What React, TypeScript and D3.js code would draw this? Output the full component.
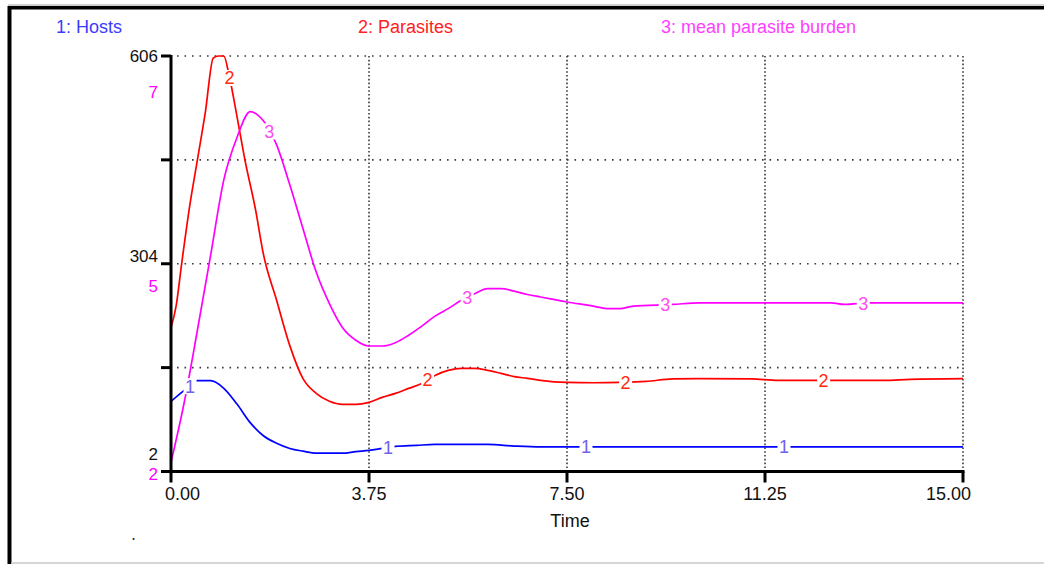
import React from 'react';
import * as d3 from 'd3';

// ---- data ----
const legendLabels = ['1: Hosts', '2: Parasites', '3: mean parasite burden'];
const seriesColors = ['#0000ff', '#ff0000', '#ff00ff'];
const labelColors = ['#6f62ee', '#ff2a10', '#ff4cf0'];
const legendColors = ['#3c3cff', '#ff2020', '#ff40ff'];

const xTicks = [0, 3.75, 7.5, 11.25, 15];
const leftTicks = [2, 153, 304, 455, 606];
const leftTickLabels = [
  { v: 606, t: '606' },
  { v: 304, t: '304' },
  { v: 2, t: '2' },
];
const burdenTickLabels = [7, 4.5, 2];

const hostTimes = [0, 0.25, 0.5, 0.75, 1, 1.25, 1.5, 1.75, 2, 2.25, 2.5, 2.75, 3, 3.25, 3.5, 3.75, 4, 4.25, 4.65, 5, 5.5, 6, 6.5, 7, 15];
const hostValues = [104, 120, 134, 134, 123, 100, 73, 54, 43, 35.5, 31.5, 28.6, 28.6, 28.6, 31, 32.6, 35.5, 38.4, 40, 41.3, 41.3, 41.3, 39, 37.7, 37.7];

const parasiteTimes = [0, 0.1, 0.2, 0.35, 0.5, 0.65, 0.8, 0.9, 1.0, 1.1, 1.25, 1.4, 1.6, 1.75, 2, 2.25, 2.5, 2.75, 3, 3.25, 3.5, 3.75, 4, 4.25, 4.5, 4.75, 5, 5.25, 5.5, 5.75, 6, 6.25, 6.5, 6.75, 7, 7.5, 8, 8.5, 9, 9.5, 10, 11, 11.5, 13.5, 14, 15];
const parasiteValues = [211, 244, 303, 386, 455, 524, 603, 606, 606, 578, 518, 455, 383, 318, 251, 185, 137, 115.5, 104, 99.5, 99.5, 102.4, 109.7, 115.5, 122.8, 130, 141.7, 149, 152, 152, 149, 144.6, 140, 137.4, 134.5, 131.5, 131, 131.5, 133, 136.6, 137, 136.6, 134.5, 134.5, 136, 137];

const burdenTimes = [0, 0.25, 0.5, 0.75, 1, 1.25, 1.5, 1.75, 2, 2.25, 2.5, 2.75, 3, 3.25, 3.5, 3.75, 4, 4.25, 4.5, 4.75, 5, 5.25, 5.5, 5.75, 6, 6.25, 6.5, 6.75, 7, 7.5, 8, 8.25, 8.5, 8.75, 9.5, 10, 12.5, 12.75, 13.25, 15];
const burdenValues = [2.11, 2.83, 3.7, 4.6, 5.51, 6.02, 6.33, 6.22, 5.93, 5.45, 4.92, 4.4, 4.02, 3.73, 3.58, 3.51, 3.51, 3.55, 3.64, 3.75, 3.87, 3.96, 4.06, 4.14, 4.2, 4.2, 4.17, 4.13, 4.1, 4.04, 3.99, 3.96, 3.96, 3.99, 4.01, 4.03, 4.03, 4.01, 4.03, 4.03];

const seriesLabelStarts = [0.36, 1.11, 1.86];
const seriesLabelStep = 3.75;

const FONT = "'Liberation Sans', Arial, sans-serif";

function interp(ts: number[], vs: number[], t: number) {
  for (let i = 0; i < ts.length - 1; i++) {
    if (t >= ts[i] && t <= ts[i + 1]) {
      const f = (t - ts[i]) / (ts[i + 1] - ts[i]);
      return vs[i] + f * (vs[i + 1] - vs[i]);
    }
  }
  return vs[vs.length - 1];
}

export default function App() {
  const W = 1044;
  const H = 564;
  const x = d3.scaleLinear().domain([0, 15]).range([171, 963]);
  const yL = d3.scaleLinear().domain([2, 606]).range([471.5, 56]);
  const yB = d3.scaleLinear().domain([2, 7]).range([471.5, 56]);
  const fmt0 = d3.format('.0f');
  const fmtX = d3.format('.2f');

  const series = [
    { ts: hostTimes, vs: hostValues, y: yL },
    { ts: parasiteTimes, vs: parasiteValues, y: yL },
    { ts: burdenTimes, vs: burdenValues, y: yB },
  ];

  const x0 = x(0);
  const x1 = x(15);
  const yTop = yL(606);
  const yBot = yL(2);

  const blackOffsets = [0, -7.5, -17.5];
  const magentaOffsets = [36, 22, 2];

  return (
    <svg width={W} height={H} style={{ position: 'absolute', left: 0, top: 0, background: '#fff' }} fontFamily={FONT}>
      {/* frame */}
      <rect x={0} y={0} width={W} height={H} fill="#fff" />
      <line x1={8} x2={W} y1={5} y2={5} stroke="#a0a0a0" strokeWidth={1} />
      <rect x={8} y={6} width={W - 8} height={3.5} fill="#000" />
      <rect x={7.5} y={6} width={4} height={H - 6} fill="#000" />
      <line x1={11} x2={W} y1={563} y2={563} stroke="#c8c8c8" strokeWidth={1.5} />

      {/* legend */}
      {legendLabels.map((l, i) => (
        <text key={l} x={[56, 358, 661][i]} y={33} fontSize={18} fill={legendColors[i]}>
          {l}
        </text>
      ))}

      {/* grid */}
      {leftTicks.slice(1).map((v) => (
        <line key={'h' + v} x1={x0 + 6} x2={x1} y1={yL(v)} y2={yL(v)} stroke="#3a3a3a" strokeWidth={1.6} strokeDasharray="1.6,5.9" />
      ))}
      {xTicks.slice(1).map((t) => (
        <line key={'v' + t} x1={x(t)} x2={x(t)} y1={yTop} y2={yBot} stroke="#3a3a3a" strokeWidth={1.6} strokeDasharray="1.6,2.2" />
      ))}

      {/* series lines */}
      {series.map((s, i) => {
        const pts: [number, number][] = s.ts.map((t, j) => [t, s.vs[j]]);
        const gen = d3
          .line<[number, number]>()
          .x((d) => x(d[0]))
          .y((d) => s.y(d[1]))
          .curve(d3.curveMonotoneX);
        return <path key={'s' + i} d={gen(pts) || ''} fill="none" stroke={seriesColors[i]} strokeWidth={1.7} />;
      })}

      {/* series number labels */}
      {series.map((s, i) =>
        [0, 1, 2, 3].map((k) => {
          const t = seriesLabelStarts[i] + k * seriesLabelStep;
          const cx = x(t);
          const cy = s.y(interp(s.ts, s.vs, t));
          return (
            <g key={'l' + i + k}>
              <rect x={cx - 6.5} y={cy - 8} width={13} height={16} fill="#fff" />
              <text x={cx} y={cy} dy="0.36em" textAnchor="middle" fontSize={18} fill={labelColors[i]}>
                {String(i + 1)}
              </text>
            </g>
          );
        })
      )}

      {/* axes */}
      <line x1={x0} x2={x0} y1={yTop - 1} y2={yBot + 1.5} stroke="#000" strokeWidth={3} />
      <line x1={x0 - 1.5} x2={x1 + 1.5} y1={yBot} y2={yBot} stroke="#000" strokeWidth={3} />
      {leftTicks.map((v) => (
        <line key={'yt' + v} x1={161} x2={x0} y1={yL(v)} y2={yL(v)} stroke="#000" strokeWidth={3} />
      ))}
      {xTicks.map((t) => (
        <line key={'xt' + t} x1={x(t)} x2={x(t)} y1={yBot} y2={yBot + 11} stroke="#000" strokeWidth={3} />
      ))}

      {/* y tick labels */}
      {leftTickLabels.map((d, i) => (
        <text key={'yl' + i} x={158} y={yL(d.v) + blackOffsets[i]} dy="0.36em" textAnchor="end" fontSize={17} fill="#111">
          {d.t}
        </text>
      ))}
      {burdenTickLabels.map((v, i) => (
        <text key={'bl' + i} x={158} y={yB(v) + magentaOffsets[i]} dy="0.36em" textAnchor="end" fontSize={17} fill="#ff00ff">
          {fmt0(v)}
        </text>
      ))}

      {/* x tick labels */}
      {xTicks.map((t, i) => {
        const first = i === 0;
        const last = i === xTicks.length - 1;
        return (
          <text
            key={'xl' + t}
            x={first ? x(t) - 6 : last ? x(t) + 8 : x(t)}
            y={500}
            textAnchor={first ? 'start' : last ? 'end' : 'middle'}
            fontSize={18}
            fill="#111"
          >
            {fmtX(t)}
          </text>
        );
      })}
      <text x={570} y={527} textAnchor="middle" fontSize={18} fill="#111">
        Time
      </text>
      <text x={131} y={540} fontSize={18} fill="#333">
        .
      </text>
    </svg>
  );
}
